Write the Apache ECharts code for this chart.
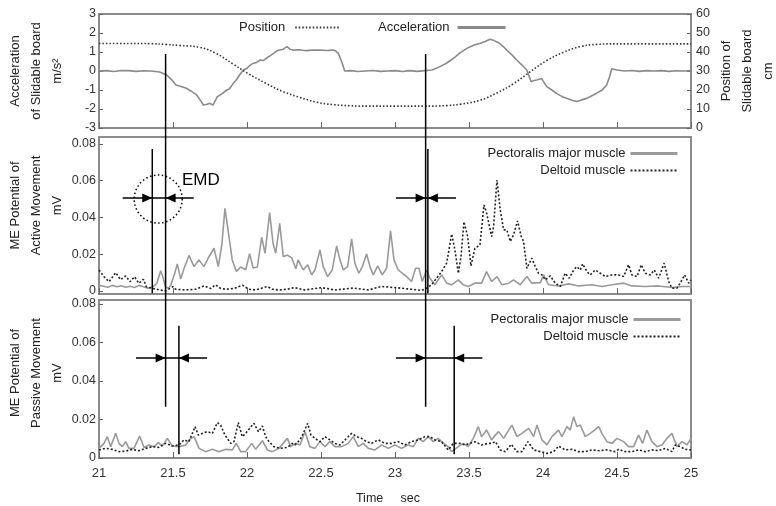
<!DOCTYPE html>
<html><head><meta charset="utf-8">
<script src="https://cdn.jsdelivr.net/npm/echarts@6/dist/echarts.min.js"></script>
<style>html,body{margin:0;padding:0;background:#fff}#c{width:776px;height:506px}</style>
</head><body><div id="c"></div>
<script>
// ---- data (time in s) ----
const timeTicks = [21, 21.5, 22, 22.5, 23, 23.5, 24, 24.5, 25];
const emgTicks = [0, 0.02, 0.04, 0.06, 0.08];

const position = [[21.0,44.5],[21.2,44.5],[21.35,44.4],[21.45,44.0],[21.55,43.4],[21.68,42.5],[21.79,39.3],[21.905,33.7],[22.0,29.0],[22.133,23.3],[22.245,19.1],[22.36,16.0],[22.47,13.6],[22.58,12.3],[22.7,11.7],[22.81,11.5],[23.0,11.5],[23.2,11.5],[23.35,11.8],[23.45,12.6],[23.574,14.6],[23.69,18.5],[23.8,23.3],[23.91,29.4],[24.025,35.5],[24.137,39.8],[24.25,42.8],[24.36,44.0],[24.5,44.3],[25.0,44.3]];

const acceleration = [[21.0,0.0],[21.05,0.02],[21.1,-0.03],[21.15,0.03],[21.2,0.02],[21.25,-0.02],[21.3,0.01],[21.35,0.0],[21.41,-0.05],[21.457,-0.21],[21.49,-0.45],[21.52,-0.74],[21.55,-0.8],[21.59,-0.91],[21.62,-1.05],[21.66,-1.26],[21.69,-1.6],[21.705,-1.79],[21.73,-1.75],[21.75,-1.7],[21.77,-1.8],[21.8,-1.35],[21.83,-1.2],[21.863,-1.0],[21.88,-0.95],[21.908,-0.65],[21.93,-0.45],[21.95,-0.21],[21.975,0.05],[22.0,0.14],[22.02,0.3],[22.04,0.4],[22.065,0.45],[22.09,0.58],[22.11,0.55],[22.13,0.67],[22.155,0.8],[22.18,0.93],[22.2,1.05],[22.22,1.1],[22.245,1.15],[22.27,1.28],[22.29,1.15],[22.31,1.1],[22.35,1.12],[22.4,1.07],[22.44,1.1],[22.49,1.1],[22.54,1.08],[22.58,1.1],[22.6,1.05],[22.617,0.93],[22.64,0.49],[22.66,0.0],[22.67,-0.05],[22.7,0.02],[22.75,-0.03],[22.8,0.0],[22.85,0.03],[22.9,-0.02],[22.95,0.0],[23.0,0.02],[23.05,-0.03],[23.1,0.02],[23.15,-0.02],[23.2,0.02],[23.25,0.05],[23.304,0.23],[23.35,0.42],[23.395,0.67],[23.44,0.95],[23.485,1.19],[23.53,1.35],[23.575,1.46],[23.61,1.55],[23.642,1.67],[23.67,1.6],[23.7,1.49],[23.73,1.3],[23.755,1.1],[23.79,0.85],[23.822,0.58],[23.86,0.3],[23.89,0.05],[23.92,-0.56],[23.94,-0.5],[23.957,-0.47],[23.99,-0.39],[24.025,-0.82],[24.06,-1.0],[24.09,-1.18],[24.13,-1.35],[24.16,-1.44],[24.2,-1.55],[24.228,-1.61],[24.26,-1.52],[24.295,-1.44],[24.33,-1.3],[24.36,-1.18],[24.4,-1.0],[24.43,-0.74],[24.45,-0.3],[24.464,0.12],[24.5,0.05],[24.55,0.0],[24.6,0.03],[24.65,-0.02],[24.7,0.02],[24.75,0.0],[24.8,0.02],[24.85,-0.02],[24.9,0.01],[24.95,0.0],[25.0,0.02]];

const activePectoralis = [[21.0,0.003],[21.03,0.0025],[21.06,0.002],[21.09,0.003],[21.12,0.0022],[21.15,0.0028],[21.18,0.002],[21.21,0.0025],[21.24,0.0018],[21.27,0.003],[21.3,0.0022],[21.33,0.0015],[21.36,0.002],[21.39,0.004],[21.417,0.011],[21.43,0.008],[21.45,0.002],[21.47,0.0015],[21.484,0.003],[21.51,0.009],[21.529,0.0147],[21.552,0.0065],[21.574,0.012],[21.608,0.0193],[21.642,0.0132],[21.676,0.0169],[21.709,0.0132],[21.743,0.0186],[21.777,0.0232],[21.806,0.0132],[21.83,0.025],[21.851,0.045],[21.867,0.036],[21.9,0.017],[21.928,0.0106],[21.957,0.013],[21.991,0.0115],[22.018,0.0202],[22.041,0.0125],[22.07,0.013],[22.099,0.0292],[22.122,0.0205],[22.153,0.0426],[22.176,0.0259],[22.194,0.0205],[22.221,0.0368],[22.245,0.0186],[22.273,0.0195],[22.302,0.018],[22.33,0.012],[22.345,0.0169],[22.38,0.0114],[22.41,0.0142],[22.437,0.0087],[22.459,0.0114],[22.493,0.0223],[22.515,0.0132],[22.545,0.0078],[22.576,0.0114],[22.606,0.0245],[22.628,0.0169],[22.651,0.0114],[22.68,0.0132],[22.707,0.0283],[22.729,0.015],[22.756,0.0096],[22.779,0.0132],[22.808,0.0201],[22.831,0.0132],[22.853,0.0087],[22.883,0.0136],[22.914,0.0087],[22.943,0.0123],[22.97,0.0327],[22.993,0.0169],[23.022,0.0114],[23.049,0.0096],[23.078,0.0078],[23.112,0.0051],[23.139,0.0123],[23.162,0.0123],[23.184,0.0051],[23.214,0.0114],[23.236,0.0069],[23.27,0.0033],[23.315,0.0087],[23.349,0.0042],[23.383,0.0033],[23.428,0.006],[23.461,0.0033],[23.495,0.0024],[23.54,0.0042],[23.585,0.0042],[23.619,0.0105],[23.653,0.0051],[23.689,0.0078],[23.723,0.0033],[23.768,0.0042],[23.801,0.006],[23.846,0.0033],[23.891,0.0078],[23.925,0.0042],[23.982,0.0045],[24.004,0.0087],[24.038,0.0033],[24.105,0.0027],[24.173,0.0038],[24.241,0.0027],[24.331,0.0033],[24.398,0.0024],[24.466,0.0033],[24.545,0.0042],[24.601,0.0027],[24.691,0.0024],[24.781,0.0027],[24.871,0.0018],[24.939,0.0024],[25.0,0.0024]];

const activeDeltoid = [[21.0,0.0114],[21.034,0.0077],[21.068,0.005],[21.113,0.0099],[21.146,0.0061],[21.18,0.0081],[21.21,0.005],[21.24,0.0077],[21.27,0.0041],[21.3,0.0063],[21.32,0.0023],[21.36,0.0014],[21.41,0.0005],[21.45,0.0],[21.5,0.0023],[21.518,0.0009],[21.586,0.0005],[21.653,0.0009],[21.709,0.0027],[21.755,0.0013],[21.788,0.0033],[21.822,0.0013],[21.856,0.0009],[21.912,0.0013],[21.968,0.0031],[22.014,0.0009],[22.059,0.0005],[22.137,0.0024],[22.171,0.0009],[22.216,0.0005],[22.273,0.0009],[22.318,0.0018],[22.392,0.0005],[22.504,0.0018],[22.594,0.0005],[22.718,0.0015],[22.82,0.0005],[22.91,0.0024],[22.999,0.0018],[23.112,0.0009],[23.18,0.0002],[23.214,0.0015],[23.247,0.0033],[23.281,0.0069],[23.315,0.0105],[23.349,0.0151],[23.383,0.031],[23.405,0.0223],[23.428,0.0096],[23.446,0.0187],[23.466,0.0377],[23.491,0.0296],[23.513,0.0136],[23.54,0.0232],[23.574,0.025],[23.601,0.0468],[23.619,0.0423],[23.653,0.0296],[23.666,0.035],[23.689,0.0604],[23.711,0.0441],[23.734,0.0332],[23.756,0.0332],[23.779,0.0269],[23.801,0.0305],[23.828,0.0381],[23.853,0.0296],[23.869,0.0269],[23.891,0.0123],[23.925,0.0178],[23.948,0.0132],[23.97,0.0096],[23.993,0.0087],[24.015,0.006],[24.049,0.0082],[24.083,0.0042],[24.117,0.0024],[24.15,0.0096],[24.177,0.0069],[24.207,0.0114],[24.229,0.0132],[24.252,0.0114],[24.268,0.0147],[24.297,0.0105],[24.319,0.0087],[24.353,0.0114],[24.387,0.0096],[24.421,0.0078],[24.466,0.0087],[24.511,0.0087],[24.545,0.0078],[24.578,0.0142],[24.601,0.0087],[24.635,0.0078],[24.664,0.0142],[24.691,0.0096],[24.725,0.0087],[24.752,0.0114],[24.781,0.0069],[24.819,0.0151],[24.849,0.0051],[24.871,0.0015],[24.905,0.0015],[24.927,0.0042],[24.957,0.0087],[24.984,0.0042],[25.0,0.006]];

const passivePectoralis = [[21.0,0.005],[21.034,0.0076],[21.056,0.0111],[21.079,0.0059],[21.113,0.0128],[21.135,0.0076],[21.158,0.0059],[21.18,0.0085],[21.203,0.005],[21.236,0.005],[21.275,0.0114],[21.304,0.0055],[21.338,0.0068],[21.372,0.0059],[21.401,0.008],[21.428,0.0062],[21.462,0.0102],[21.495,0.0062],[21.541,0.0059],[21.586,0.0068],[21.613,0.0097],[21.642,0.0111],[21.676,0.005],[21.721,0.0033],[21.766,0.0045],[21.811,0.0033],[21.856,0.0045],[21.901,0.0042],[21.928,0.0076],[21.957,0.0033],[21.991,0.0033],[22.032,0.0076],[22.059,0.0045],[22.104,0.009],[22.137,0.0042],[22.171,0.0033],[22.216,0.005],[22.273,0.0102],[22.295,0.0059],[22.329,0.0076],[22.358,0.0068],[22.392,0.0137],[22.425,0.0059],[22.459,0.005],[22.493,0.0085],[22.527,0.0059],[22.56,0.0085],[22.594,0.0059],[22.639,0.0059],[22.684,0.0076],[22.718,0.0111],[22.752,0.0059],[22.786,0.0076],[22.82,0.005],[22.865,0.0042],[22.91,0.0068],[22.955,0.005],[22.999,0.0068],[23.045,0.005],[23.09,0.0068],[23.124,0.0059],[23.157,0.0102],[23.191,0.0085],[23.225,0.0111],[23.259,0.0085],[23.292,0.0102],[23.326,0.0076],[23.36,0.0059],[23.383,0.0033],[23.428,0.0059],[23.461,0.0076],[23.495,0.0059],[23.529,0.0102],[23.563,0.0163],[23.585,0.0111],[23.619,0.0145],[23.653,0.0094],[23.678,0.0119],[23.7,0.0137],[23.734,0.0102],[23.768,0.0145],[23.79,0.0171],[23.824,0.0111],[23.858,0.0128],[23.903,0.0154],[23.937,0.0111],[23.959,0.0171],[23.993,0.0094],[24.027,0.0068],[24.06,0.0111],[24.105,0.0145],[24.128,0.0111],[24.162,0.0163],[24.184,0.0145],[24.207,0.0215],[24.229,0.0163],[24.252,0.0171],[24.286,0.0111],[24.319,0.0128],[24.349,0.0145],[24.376,0.0163],[24.398,0.0128],[24.432,0.0085],[24.466,0.0076],[24.5,0.0102],[24.545,0.0085],[24.578,0.0059],[24.612,0.0059],[24.646,0.0119],[24.673,0.0076],[24.702,0.0145],[24.736,0.0085],[24.77,0.0059],[24.804,0.0068],[24.837,0.0102],[24.871,0.0128],[24.905,0.0059],[24.939,0.0085],[24.973,0.0068],[25.0,0.0102]];

const passiveDeltoid = [[21.0,0.0042],[21.045,0.005],[21.09,0.0045],[21.135,0.0033],[21.18,0.0036],[21.225,0.0045],[21.27,0.0038],[21.315,0.005],[21.36,0.0059],[21.405,0.0055],[21.45,0.0076],[21.495,0.0062],[21.541,0.0068],[21.574,0.0094],[21.608,0.0085],[21.649,0.0163],[21.671,0.0119],[21.698,0.0128],[21.732,0.0137],[21.766,0.0128],[21.8,0.0184],[21.822,0.0171],[21.851,0.0119],[21.89,0.0076],[21.912,0.0085],[21.941,0.0184],[21.968,0.0111],[21.991,0.0128],[22.018,0.0154],[22.047,0.018],[22.077,0.0137],[22.104,0.0166],[22.126,0.0111],[22.149,0.0085],[22.182,0.0059],[22.227,0.005],[22.273,0.0055],[22.306,0.0076],[22.324,0.0068],[22.358,0.0094],[22.38,0.0128],[22.41,0.018],[22.432,0.0119],[22.459,0.0102],[22.493,0.0085],[22.527,0.0111],[22.56,0.0094],[22.594,0.0076],[22.628,0.0068],[22.662,0.0094],[22.707,0.0128],[22.741,0.0111],[22.774,0.0102],[22.808,0.0085],[22.842,0.0076],[22.887,0.0094],[22.932,0.0076],[22.977,0.0076],[23.022,0.0085],[23.067,0.0068],[23.112,0.0085],[23.157,0.0094],[23.202,0.0111],[23.236,0.0111],[23.27,0.0094],[23.315,0.0085],[23.36,0.0042],[23.394,0.0076],[23.439,0.0076],[23.473,0.0068],[23.506,0.0076],[23.54,0.0085],[23.585,0.0068],[23.63,0.0076],[23.655,0.0076],[23.678,0.0085],[23.711,0.0042],[23.745,0.0033],[23.786,0.0071],[23.824,0.0033],[23.858,0.0033],[23.898,0.0085],[23.937,0.0042],[23.982,0.0033],[24.027,0.0024],[24.072,0.0033],[24.105,0.0062],[24.15,0.0042],[24.196,0.0045],[24.241,0.0033],[24.286,0.0033],[24.331,0.0042],[24.376,0.0038],[24.432,0.0042],[24.488,0.0033],[24.511,0.0045],[24.556,0.0033],[24.601,0.0033],[24.646,0.0042],[24.691,0.0033],[24.736,0.0042],[24.781,0.0038],[24.826,0.005],[24.871,0.0033],[24.894,0.0068],[24.927,0.0059],[24.961,0.0045],[25.0,0.0042]];

// annotation times (s)
const motionStartTimes = [21.45, 23.207];   // long marker lines
const activeOnsetTimes = [21.36, 23.222];
const passiveOnsetTimes = [21.54, 23.40];

// ---- chart ----
const FONT = "'Liberation Sans', Arial, sans-serif";
const chart = echarts.init(document.getElementById('c'), null, {renderer: 'canvas'});
const gridBox = {show: true, borderColor: '#8c8c8c', borderWidth: 2, backgroundColor: 'transparent',
  containLabel: false, outerBoundsMode: 'none'};
function xAx(gi, showLabels) {
  return {type: 'value', gridIndex: gi, min: 21, max: 25, interval: 0.5,
    axisLine: {show: false, onZero: false}, splitLine: {show: false},
    axisTick: {show: true, inside: true, length: 6, lineStyle: {color: '#666', width: 1}},
    axisLabel: {show: showLabels, margin: 9, fontSize: 13, color: '#333', fontFamily: FONT,
      formatter: v => String(v)},
  };
}
const nameStyle = {fontSize: 13, lineHeight: 21, color: '#222', fontFamily: FONT};
const emgAxis = (gi, min, max, name, pad) => ({
  type: 'value', gridIndex: gi, min: min, max: max,
  axisLine: {show: false, onZero: false}, splitLine: {show: false},
  axisTick: {show: true, inside: true, length: 4, customValues: emgTicks, lineStyle: {color: '#666'}},
  axisLabel: {margin: 3, fontSize: 12.5, color: '#333', fontFamily: FONT, customValues: emgTicks,
    formatter: v => v === 0 ? '0' : v.toFixed(2)},
  name: name, nameLocation: 'middle', nameRotate: 90, nameGap: 31, nameMoveOverlap: false,
  nameTextStyle: Object.assign({}, nameStyle, {padding: [0, 0, 0, pad]})
});
const legendCommon = {padding: 0, align: 'right', itemHeight: 14, selectedMode: false,
  itemStyle: {opacity: 0, borderWidth: 0},
  textStyle: {fontSize: 13, color: '#222', fontFamily: FONT}};

const option = {
  animation: false,
  backgroundColor: '#fff',
  textStyle: {fontFamily: FONT},
  grid: [
    Object.assign({left: 99, top: 14, width: 592, height: 114}, gridBox),
    Object.assign({left: 99, top: 137, width: 592, height: 157}, gridBox),
    Object.assign({left: 99, top: 300, width: 592, height: 158}, gridBox)
  ],
  xAxis: [xAx(0, false), xAx(1, false),
    Object.assign(xAx(2, true), {name: 'Time     sec', nameLocation: 'middle', nameGap: 34,
      nameTextStyle: {fontSize: 12.5, color: '#222', fontFamily: FONT, padding: [0, 14, 0, 0]}})],
  yAxis: [
    {type: 'value', gridIndex: 0, min: -3, max: 3, interval: 1,
      axisLine: {show: false, onZero: false}, splitLine: {show: false},
      axisTick: {show: true, inside: true, length: 4, lineStyle: {color: '#666'}},
      axisLabel: {margin: 3, fontSize: 12.5, color: '#333', fontFamily: FONT},
      name: 'Acceleration\nof Slidable board\nm/s²', nameLocation: 'middle', nameRotate: 90, nameGap: 31,
      nameMoveOverlap: false, nameTextStyle: nameStyle},
    {type: 'value', gridIndex: 0, position: 'right', min: 0, max: 60, interval: 10,
      axisLine: {show: false, onZero: false}, splitLine: {show: false},
      axisTick: {show: true, inside: true, length: 4, lineStyle: {color: '#666'}},
      axisLabel: {margin: 5, fontSize: 12.5, color: '#333', fontFamily: FONT},
      name: 'Position of\nSlidable board\ncm', nameLocation: 'middle', nameRotate: 90, nameGap: 25,
      nameMoveOverlap: false, nameTextStyle: nameStyle},
    emgAxis(1, -0.0017, 0.0838, 'ME Potential of\nActive Movement\nmV', 20),
    emgAxis(2, 0, 0.0821, 'ME Potential of\nPassive Movement\nmV', 12)
  ],
  legend: [
    Object.assign({}, legendCommon, {data: [{name: 'Position'}], left: 239, top: 21, itemWidth: 45,
      textStyle: Object.assign({}, legendCommon.textStyle, {padding: [0, 5, 0, 0]})}),
    Object.assign({}, legendCommon, {data: [{name: 'Acceleration', lineStyle: {width: 3}}], left: 378, top: 21, itemWidth: 48,
      textStyle: Object.assign({}, legendCommon.textStyle, {padding: [0, 3, 0, 0]})}),
    Object.assign({}, legendCommon, {data: [{name: 'Pectoralis major muscle', lineStyle: {width: 3}}, {name: 'Deltoid muscle'}],
      orient: 'vertical', right: 97, top: 147, itemWidth: 47, itemGap: 4}),
    Object.assign({}, legendCommon, {data: [{name: 'Pectoralis major muscle', lineStyle: {width: 3}}, {name: 'Deltoid muscle'}],
      orient: 'vertical', right: 94, top: 313, itemWidth: 47, itemGap: 4})
  ],
  series: [
    {name: 'Acceleration', type: 'line', xAxisIndex: 0, yAxisIndex: 0, data: acceleration, showSymbol: false, symbol: 'none',
      lineStyle: {color: '#8a8a8a', width: 1.6}, itemStyle: {color: '#8a8a8a'}},
    {name: 'Position', type: 'line', xAxisIndex: 0, yAxisIndex: 1, data: position, smooth: 0.4, showSymbol: false, symbol: 'none',
      lineStyle: {color: '#333', width: 1.6, type: [1.5, 2]}, itemStyle: {color: '#333'}},
    {name: 'Pectoralis major muscle', type: 'line', xAxisIndex: 1, yAxisIndex: 2, data: activePectoralis, showSymbol: false, symbol: 'none',
      lineStyle: {color: '#9a9a9a', width: 1.6}, itemStyle: {color: '#9a9a9a'}},
    {name: 'Deltoid muscle', type: 'line', xAxisIndex: 1, yAxisIndex: 2, data: activeDeltoid, showSymbol: false, symbol: 'none',
      lineStyle: {color: '#222', width: 1.6, type: [2, 2]}, itemStyle: {color: '#222'}},
    {name: 'Pectoralis major muscle', type: 'line', xAxisIndex: 2, yAxisIndex: 3, data: passivePectoralis, showSymbol: false, symbol: 'none',
      lineStyle: {color: '#9a9a9a', width: 1.6}, itemStyle: {color: '#9a9a9a'}},
    {name: 'Deltoid muscle', type: 'line', xAxisIndex: 2, yAxisIndex: 3, data: passiveDeltoid, showSymbol: false, symbol: 'none',
      lineStyle: {color: '#222', width: 1.6, type: [2, 2]}, itemStyle: {color: '#222'}}
  ]
};
chart.setOption(option);

// ---- annotations positioned through the axes ----
const P = (xi, yi, t, v) => chart.convertToPixel({xAxisIndex: xi, yAxisIndex: yi}, [t, v]);
const g = [];
const lineEl = (a, b, w) => ({type: 'line', z: 50, shape: {x1: a[0], y1: a[1], x2: b[0], y2: b[1]}, style: {stroke: '#000', lineWidth: w || 1.5}});
motionStartTimes.forEach(t => g.push(lineEl(P(0, 0, t, 0.9), P(2, 3, t, 0.0266))));
activeOnsetTimes.forEach(t => g.push(lineEl(P(1, 2, t, 0.0773), P(1, 2, t, -0.0013))));
passiveOnsetTimes.forEach(t => g.push(lineEl(P(2, 3, t, 0.0687), P(2, 3, t, 0.002))));
function arrows(xi, yi, tA, tB, v) {
  const t1 = Math.min(tA, tB), t2 = Math.max(tA, tB);
  const a = P(xi, yi, t1, v), b = P(xi, yi, t2, v);
  const l = P(xi, yi, t1 - 0.2, v), r = P(xi, yi, t2 + 0.19, v);
  g.push(lineEl(l, r, 1.5));
  g.push({type: 'polygon', z: 51, shape: {points: [[a[0] - 10, a[1] - 4.5], [a[0], a[1]], [a[0] - 10, a[1] + 4.5]]}, style: {fill: '#000'}});
  g.push({type: 'polygon', z: 51, shape: {points: [[b[0] + 10, b[1] - 4.5], [b[0], b[1]], [b[0] + 10, b[1] + 4.5]]}, style: {fill: '#000'}});
}
motionStartTimes.forEach((t, i) => arrows(1, 2, t, activeOnsetTimes[i], 0.0506));
motionStartTimes.forEach((t, i) => arrows(2, 3, t, passiveOnsetTimes[i], 0.052));
const cc = P(1, 2, 21.40, 0.050);
g.push({type: 'circle', z: 52, shape: {cx: cc[0], cy: cc[1], r: 24}, style: {fill: 'none', stroke: '#000', lineWidth: 1.5, lineDash: [1.5, 2.5]}});
const tp = P(1, 2, 21.56, 0.0604);
g.push({type: 'text', z: 52, x: tp[0], y: tp[1], style: {text: 'EMD', fontSize: 17, fontFamily: FONT, fill: '#000', align: 'left', verticalAlign: 'middle'}});
chart.setOption({graphic: g});
</script></body></html>
